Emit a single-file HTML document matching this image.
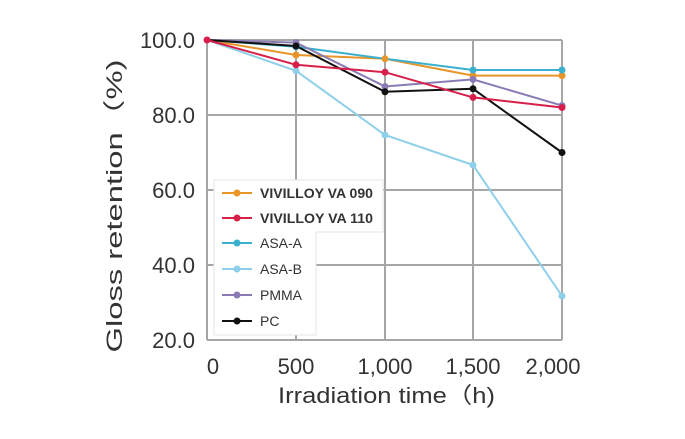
<!DOCTYPE html>
<html><head><meta charset="utf-8"><style>
body{margin:0;background:#fff;}
svg text{font-family:"Liberation Sans","Noto Sans CJK JP",sans-serif;fill:#333;}
</style></head><body>
<svg width="685" height="434" xmlns="http://www.w3.org/2000/svg">
<g stroke="#a6a6a6" stroke-width="2" fill="none">
<line x1="207" y1="40" x2="562" y2="40"/><line x1="207" y1="115" x2="562" y2="115"/>
<line x1="207" y1="190" x2="562" y2="190"/><line x1="207" y1="265" x2="562" y2="265"/>
<line x1="207" y1="340" x2="562" y2="340"/>
<line x1="207" y1="40" x2="207" y2="340"/><line x1="296" y1="40" x2="296" y2="340"/>
<line x1="385" y1="40" x2="385" y2="340"/><line x1="473" y1="40" x2="473" y2="340"/>
<line x1="562" y1="40" x2="562" y2="340"/>
</g>
<g font-size="22" text-anchor="end">
<text x="195" y="48">100.0</text><text x="195" y="123">80.0</text><text x="195" y="198">60.0</text>
<text x="195" y="273">40.0</text><text x="195" y="348">20.0</text>
</g>
<g font-size="22" text-anchor="middle">
<text x="213" y="374">0</text><text x="296" y="374">500</text><text x="385" y="374">1,000</text>
<text x="473" y="374">1,500</text><text x="553" y="374">2,000</text>
</g>
<text x="278" y="403" font-size="22" textLength="217" lengthAdjust="spacingAndGlyphs">Irradiation time（h)</text>
<text transform="translate(122,206) rotate(-90)" font-size="22" text-anchor="middle" textLength="293" lengthAdjust="spacingAndGlyphs">Gloss retention（%)</text>
<g fill="none" stroke-width="2">
<polyline stroke="#e8952a" points="207,40 296,55 385,58.8 473,75.6 562,75.6"/>
<polyline stroke="#3ab0cf" points="207,40 296,46.8 385,58.8 473,70 562,70"/>
<polyline stroke="#8ed0ea" points="207,40 296,70.8 385,135 473,165 562,296"/>
<polyline stroke="#8a7bb5" points="207,40 296,42.6 385,86.5 473,79.4 562,105.6"/>
<polyline stroke="#111" points="207,40 296,46 385,91.8 473,88.8 562,152.5"/>
<polyline stroke="#d6204a" points="207,40 296,64.8 385,72.2 473,97.4 562,107.5"/>
</g>
<g>
<g fill="#e8952a"><circle cx="296" cy="55" r="3.5"/><circle cx="385" cy="58.8" r="3.5"/><circle cx="473" cy="75.6" r="3.5"/><circle cx="562" cy="75.6" r="3.5"/></g>
<g fill="#3ab0cf"><circle cx="296" cy="46.8" r="3.5"/><circle cx="473" cy="70" r="3.5"/><circle cx="562" cy="70" r="3.5"/></g>
<g fill="#8ed0ea"><circle cx="296" cy="70.8" r="3.5"/><circle cx="385" cy="135" r="3.5"/><circle cx="473" cy="165" r="3.5"/><circle cx="562" cy="296" r="3.5"/></g>
<g fill="#8a7bb5"><circle cx="296" cy="42.6" r="3.5"/><circle cx="385" cy="86.5" r="3.5"/><circle cx="473" cy="79.4" r="3.5"/><circle cx="562" cy="105.6" r="3.5"/></g>
<g fill="#111"><circle cx="296" cy="46" r="3.5"/><circle cx="385" cy="91.8" r="3.5"/><circle cx="473" cy="88.8" r="3.5"/><circle cx="562" cy="152.5" r="3.5"/></g>
<g fill="#d6204a"><circle cx="207" cy="40" r="3.5"/><circle cx="296" cy="64.8" r="3.5"/><circle cx="385" cy="72.2" r="3.5"/><circle cx="473" cy="97.4" r="3.5"/><circle cx="562" cy="107.5" r="3.5"/></g>
</g>
<path d="M214,180 H383 V232 H316 V335 H214 Z" fill="#fff" stroke="#e6e6e6" stroke-width="1"/>
<g stroke-width="2">
<line x1="222" y1="193" x2="252" y2="193" stroke="#e8952a"/><circle cx="237" cy="193" r="3.5" fill="#e8952a"/>
<line x1="222" y1="218" x2="252" y2="218" stroke="#d6204a"/><circle cx="237" cy="218" r="3.5" fill="#d6204a"/>
<line x1="222" y1="243" x2="252" y2="243" stroke="#3ab0cf"/><circle cx="237" cy="243" r="3.5" fill="#3ab0cf"/>
<line x1="222" y1="269" x2="252" y2="269" stroke="#8ed0ea"/><circle cx="237" cy="269" r="3.5" fill="#8ed0ea"/>
<line x1="222" y1="295" x2="252" y2="295" stroke="#8a7bb5"/><circle cx="237" cy="295" r="3.5" fill="#8a7bb5"/>
<line x1="222" y1="321" x2="252" y2="321" stroke="#111"/><circle cx="237" cy="321" r="3.5" fill="#111"/>
</g>
<g font-size="14">
<text x="260" y="198" font-weight="bold" textLength="113" lengthAdjust="spacingAndGlyphs">VIVILLOY VA 090</text>
<text x="260" y="223" font-weight="bold" textLength="113" lengthAdjust="spacingAndGlyphs">VIVILLOY VA 110</text>
<text x="260" y="248">ASA-A</text>
<text x="260" y="274">ASA-B</text>
<text x="260" y="300">PMMA</text>
<text x="260" y="326">PC</text>
</g>
</svg>
</body></html>
